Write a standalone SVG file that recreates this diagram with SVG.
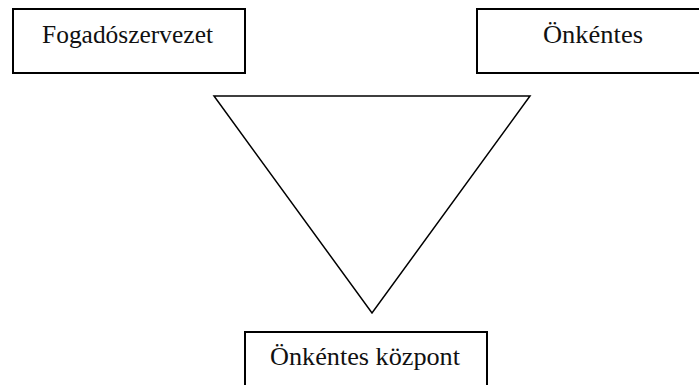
<svg xmlns="http://www.w3.org/2000/svg" width="699" height="385" viewBox="0 0 699 385">
<style>
.box{fill:#fff;stroke:#000;stroke-width:2}
.lbl{font-family:"Liberation Serif","Times New Roman",serif;font-size:25px;fill:#111}
.tri{fill:#fff;stroke:#000;stroke-width:1.5;stroke-linejoin:miter}
</style>
<rect width="699" height="385" fill="#fff"/>
<g id="connectors">
<polygon class="tri" points="214,96 530,96 372,313"/>
</g>
<g id="fogadoszervezet">
<rect class="box" x="13" y="9" width="232" height="64"/>
<text class="lbl" x="42" y="43" textLength="171" lengthAdjust="spacingAndGlyphs">Fogadószervezet</text>
</g>
<g id="onkentes">
<rect class="box" x="477" y="9" width="240" height="64"/>
<text class="lbl" x="543" y="43" textLength="100" lengthAdjust="spacingAndGlyphs">Önkéntes</text>
</g>
<g id="onkentes-kozpont">
<rect class="box" x="245" y="332" width="242" height="70"/>
<text class="lbl" x="270" y="365" textLength="190" lengthAdjust="spacingAndGlyphs">Önkéntes központ</text>
</g>
</svg>
